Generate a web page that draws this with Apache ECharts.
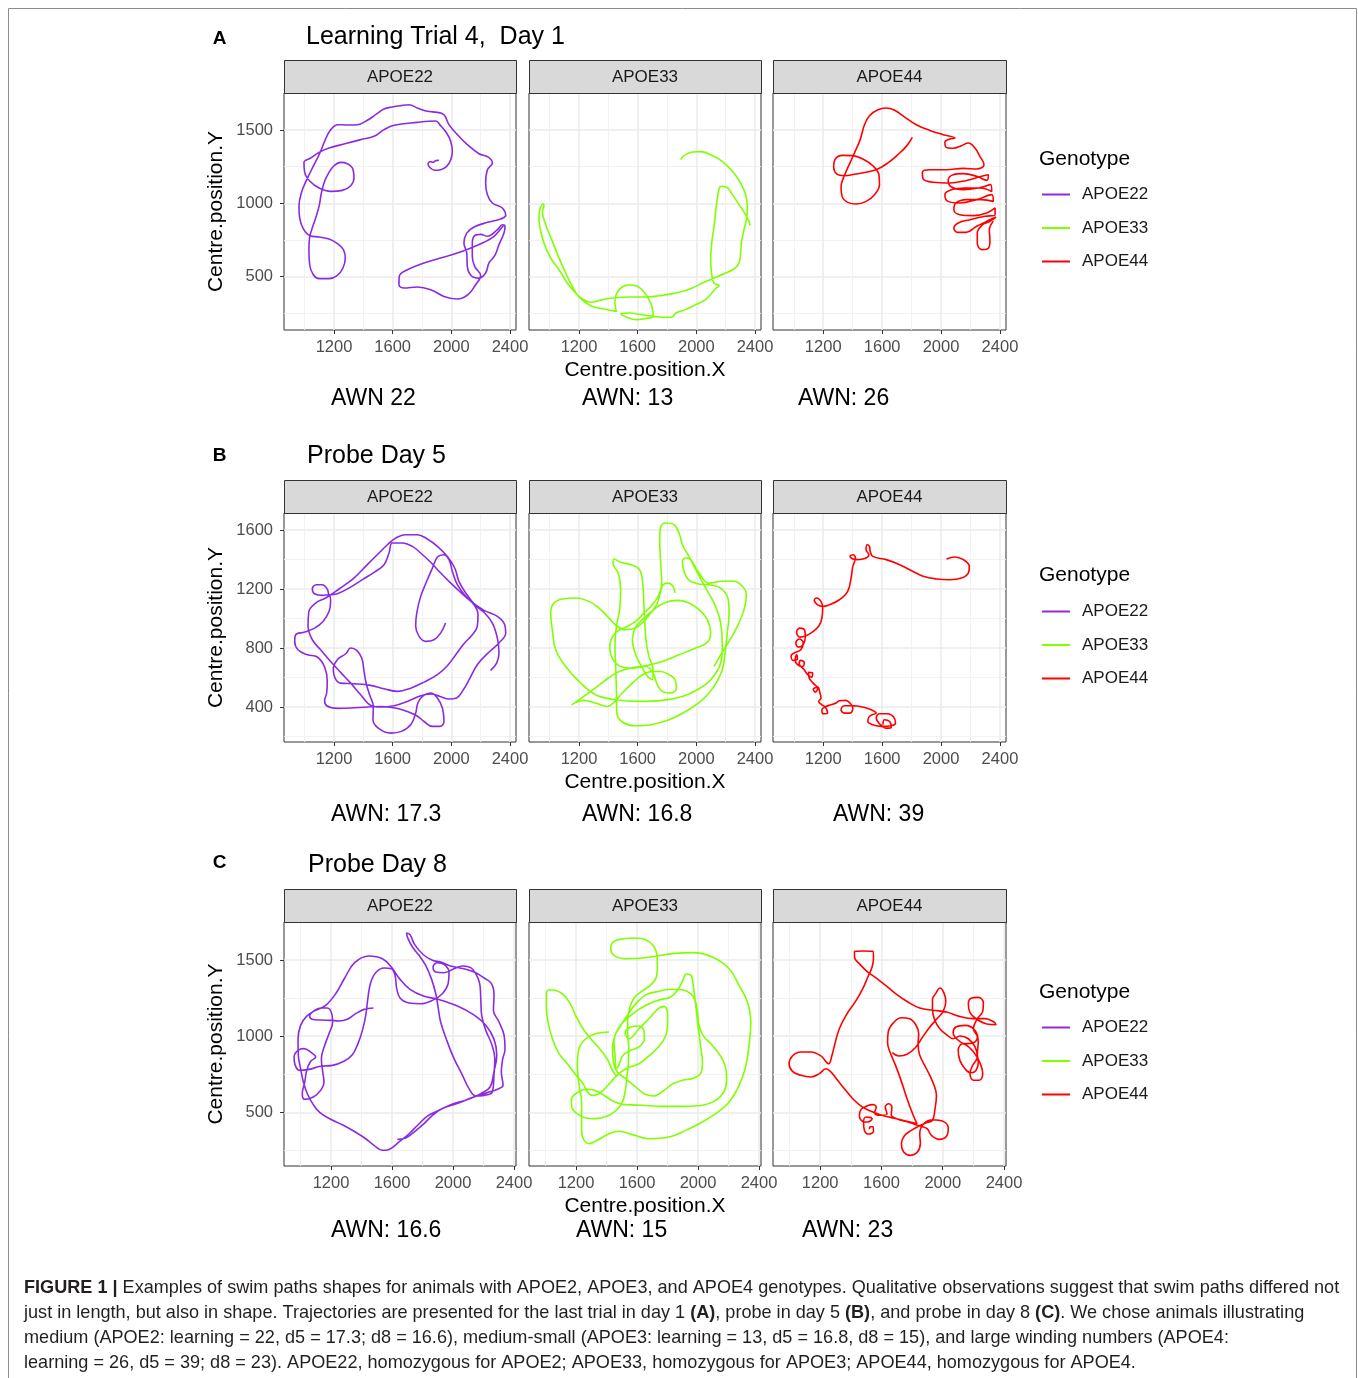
<!DOCTYPE html>
<html>
<head>
<meta charset="utf-8">
<script src="https://cdn.jsdelivr.net/npm/echarts@6/dist/echarts.min.js"></script>
<style>
  html, body { margin: 0; padding: 0; background: #ffffff; }
  #chart { width: 1358px; height: 1378px; }
</style>
</head>
<body>
<div id="chart"></div>
<script>
// ---------------- data ----------------
const genotypes = ['APOE22', 'APOE33', 'APOE44'];
const genotypeColors = ['#8A2BE2', '#7FFF00', '#FF0000'];
const rowLetters = ['A', 'B', 'C'];
const rowTitles = ['Learning Trial 4,  Day 1', 'Probe Day 5', 'Probe Day 8'];
const awnLabels = [
  ['AWN 22', 'AWN: 13', 'AWN: 26'],
  ['AWN: 17.3', 'AWN: 16.8', 'AWN: 39'],
  ['AWN: 16.6', 'AWN: 15', 'AWN: 23']
];

const xMajorTicks = [1200, 1600, 2000, 2400];
const xMinorTicks = [1000, 1400, 1800, 2200];
const yMajorTicksA = [500, 1000, 1500];
const yMinorTicksA = [250, 750, 1250];
const yMajorTicksB = [400, 800, 1200, 1600];
const yMinorTicksB = [200, 600, 1000, 1400];
const yMajorTicksC = [500, 1000, 1500];
const yMinorTicksC = [250, 750, 1250];

const xLimitsAB = [859, 2441];
const xLimitsC = [892, 2413];
const yLimitsA = [136, 1752];
const yLimitsB = [163, 1715];
const yLimitsC = [147, 1750];

// swim paths: [Centre.position.X, Centre.position.Y]
const pathA22 = [[1916,1293],[1893,1291],[1877,1279],[1859,1284],[1841,1270],[1855,1243],[1886,1225],[1927,1229],[1968,1252],[1996,1297],[2007,1354],[1996,1422],[1968,1479],[1927,1529],[1893,1561],[1768,1552],[1609,1532],[1541,1502],[1473,1457],[1382,1434],[1280,1407],[1166,1377],[1098,1347],[1041,1309],[995,1279],[1000,1211],[1036,1150],[1098,1104],[1177,1081],[1257,1088],[1314,1120],[1336,1172],[1325,1241],[1291,1270],[1245,1279],[1200,1256],[1166,1211],[1136,1150],[1114,1070],[1098,979],[1075,900],[1048,820],[1034,770],[1029,684],[1034,581],[1059,513],[1098,486],[1166,486],[1223,509],[1261,559],[1277,627],[1264,684],[1223,725],[1166,756],[1098,770],[1036,779],[991,825],[966,900],[961,979],[977,1070],[1014,1161],[1064,1263],[1104,1343],[1136,1422],[1177,1502],[1227,1536],[1291,1534],[1359,1536],[1427,1566],[1484,1604],[1541,1643],[1598,1657],[1655,1666],[1711,1672],[1768,1650],[1836,1627],[1905,1620],[1950,1604],[1984,1536],[2041,1468],[2109,1400],[2189,1338],[2250,1316],[2280,1275],[2246,1229],[2234,1138],[2246,1059],[2280,1002],[2348,968],[2371,916],[2336,893],[2246,870],[2155,838],[2105,797],[2086,729],[2105,661],[2109,570],[2136,506],[2189,490],[2234,525],[2257,593],[2296,643],[2325,718],[2359,797],[2366,843],[2348,854],[2314,820],[2246,775],[2200,788],[2159,779],[2143,729],[2143,638],[2159,570],[2200,506],[2166,445],[2114,377],[2041,347],[1950,365],[1859,411],[1768,429],[1677,422],[1643,445],[1645,502],[1700,547],[1814,593],[1927,627],[2041,661],[2132,695],[2223,734],[2291,775],[2336,825],[2355,847]];

const pathA33 = [[1893,1297],[1916,1325],[1973,1350],[2030,1352],[2098,1331],[2177,1286],[2246,1218],[2302,1138],[2336,1059],[2348,968],[2341,888],[2325,820],[2309,741],[2302,661],[2291,593],[2257,552],[2200,525],[2132,495],[2052,461],[1973,422],[1882,393],[1768,372],[1655,361],[1541,361],[1427,354],[1359,343],[1280,325],[1223,347],[1177,388],[1120,456],[1064,547],[1007,627],[961,729],[932,843],[927,911],[934,961],[954,995],[961,984],[950,945],[973,854],[1014,752],[1059,638],[1109,525],[1154,434],[1200,361],[1280,302],[1370,279],[1455,263],[1445,320],[1457,388],[1495,429],[1541,443],[1598,434],[1643,395],[1677,343],[1700,286],[1705,229],[1655,215],[1586,206],[1530,222],[1484,247],[1541,252],[1632,240],[1711,229],[1780,222],[1836,225],[1859,252],[1927,275],[1996,309],[2041,331],[2075,354],[2105,388],[2136,422],[2155,438],[2121,456],[2105,513],[2098,616],[2105,729],[2121,843],[2136,979],[2150,1070],[2168,1116],[2205,1111],[2246,1059],[2291,991],[2332,929],[2359,877],[2366,847]];

const pathA44 = [[1805,1450],[1764,1388],[1707,1332],[1639,1275],[1571,1234],[1491,1211],[1423,1200],[1344,1188],[1291,1200],[1271,1247],[1282,1302],[1332,1327],[1401,1325],[1469,1302],[1537,1256],[1578,1195],[1582,1127],[1548,1059],[1491,1013],[1423,995],[1366,1006],[1328,1047],[1321,1116],[1337,1172],[1366,1241],[1412,1343],[1451,1434],[1480,1536],[1514,1597],[1571,1638],[1628,1650],[1685,1634],[1753,1588],[1832,1536],[1923,1497],[2014,1468],[2094,1445],[2060,1438],[2026,1416],[2032,1384],[2082,1375],[2139,1393],[2185,1411],[2230,1377],[2264,1320],[2292,1263],[2242,1234],[2151,1238],[2037,1229],[1923,1229],[1873,1211],[1878,1166],[1946,1143],[2060,1138],[2173,1156],[2276,1184],[2321,1195],[2310,1156],[2242,1184],[2151,1202],[2082,1195],[2048,1156],[2071,1111],[2151,1093],[2253,1104],[2337,1127],[2344,1081],[2264,1104],[2162,1104],[2071,1093],[2026,1059],[2048,1013],[2128,1002],[2242,1025],[2344,1059],[2355,1013],[2276,1025],[2173,1025],[2101,1002],[2087,956],[2128,922],[2219,916],[2310,934],[2367,968],[2367,922],[2298,911],[2196,888],[2117,866],[2087,831],[2110,802],[2169,802],[2242,843],[2310,877],[2373,906],[2332,877],[2282,854],[2246,797],[2246,729],[2276,684],[2314,688],[2332,741],[2328,820],[2355,877]];

const pathB22 = [[1961,969],[1927,901],[1882,856],[1825,845],[1780,879],[1757,947],[1764,1037],[1791,1150],[1832,1252],[1871,1342],[1905,1417],[1946,1432],[1984,1399],[2007,1319],[2041,1229],[2098,1150],[2155,1093],[2182,1026],[2177,947],[2143,890],[2086,829],[2030,754],[1973,680],[1905,619],[1814,569],[1723,528],[1632,506],[1541,524],[1450,547],[1336,558],[1245,562],[1207,596],[1195,657],[1223,721],[1280,761],[1314,800],[1355,784],[1389,732],[1405,641],[1420,558],[1445,477],[1468,404],[1466,314],[1502,257],[1586,223],[1659,235],[1723,280],[1757,359],[1773,431],[1809,477],[1859,495],[1905,461],[1939,393],[1950,302],[1923,269],[1871,269],[1814,302],[1764,341],[1700,370],[1620,393],[1530,404],[1427,400],[1314,393],[1223,391],[1150,409],[1136,445],[1150,495],[1154,574],[1136,671],[1086,739],[1018,754],[954,788],[932,845],[939,890],[1000,908],[1068,935],[1125,980],[1166,1048],[1177,1116],[1161,1161],[1120,1157],[1070,1166],[1052,1200],[1079,1229],[1120,1229],[1154,1200],[1170,1161],[1223,1168],[1302,1206],[1393,1263],[1473,1313],[1541,1365],[1575,1444],[1598,1512],[1666,1512],[1734,1489],[1791,1444],[1859,1381],[1927,1308],[1996,1240],[2068,1173],[2143,1109],[2223,1055],[2314,1014],[2364,958],[2371,901],[2325,834],[2250,766],[2177,687],[2127,596],[2082,517],[2036,461],[1984,454],[1923,472],[1859,488],[1791,477],[1700,438],[1609,409],[1518,400],[1455,409],[1382,483],[1314,562],[1245,635],[1177,709],[1109,788],[1052,856],[1023,947],[1029,1048],[1075,1105],[1143,1139],[1234,1200],[1336,1274],[1427,1365],[1507,1444],[1564,1500],[1620,1545],[1689,1568],[1768,1568],[1836,1539],[1905,1489],[1973,1421],[2023,1342],[2052,1252],[2098,1173],[2166,1087],[2223,1042],[2280,969],[2314,867],[2325,766],[2309,698],[2268,648]];

const pathB33 = [[1855,1173],[1841,1218],[1809,1240],[1773,1229],[1757,1184],[1734,1105],[1689,1037],[1636,974],[1582,935],[1518,924],[1455,951],[1400,1008],[1336,1071],[1268,1116],[1177,1139],[1086,1132],[1029,1105],[1007,1037],[1018,924],[1041,788],[1109,675],[1200,574],[1314,483],[1450,449],[1609,438],[1768,445],[1905,472],[2007,517],[2098,585],[2166,698],[2177,811],[2166,969],[2121,1105],[2064,1206],[1996,1331],[1950,1421],[1905,1500],[1882,1579],[1848,1636],[1791,1647],[1757,1620],[1750,1534],[1757,1376],[1764,1240],[1745,1161],[1700,1093],[1643,1037],[1586,980],[1530,947],[1461,913],[1423,867],[1409,800],[1432,721],[1484,675],[1564,664],[1655,675],[1705,630],[1734,551],[1768,506],[1825,495],[1864,528],[1855,585],[1814,619],[1757,641],[1700,641],[1632,619],[1564,562],[1495,495],[1445,438],[1393,404],[1314,427],[1234,445],[1177,431],[1150,415],[1200,449],[1280,506],[1370,574],[1461,635],[1552,664],[1655,680],[1768,709],[1882,754],[1996,800],[2075,838],[2098,901],[2075,992],[2018,1060],[1950,1105],[1882,1123],[1814,1116],[1757,1093],[1695,1048],[1632,992],[1582,935],[1564,856],[1582,766],[1620,687],[1666,608],[1700,585],[1705,653],[1677,743],[1659,834],[1650,947],[1643,1082],[1632,1263],[1609,1335],[1552,1365],[1484,1381],[1439,1403],[1432,1371],[1468,1308],[1484,1195],[1477,1060],[1455,947],[1445,811],[1450,675],[1455,517],[1457,370],[1491,302],[1586,273],[1689,280],[1814,314],[1927,370],[2041,449],[2121,540],[2177,653],[2196,766],[2211,901],[2223,1037],[2218,1127],[2166,1206],[2086,1229],[2007,1236],[1946,1263],[1916,1319],[1905,1387],[1927,1410],[1961,1399],[2018,1308],[2086,1240],[2177,1252],[2257,1252],[2314,1218],[2341,1161],[2325,1060],[2280,947],[2223,845],[2166,754],[2121,675]];

const pathB44 = [[2037,1403],[2094,1417],[2151,1399],[2192,1353],[2185,1308],[2139,1274],[2060,1263],[1969,1268],[1878,1286],[1810,1319],[1719,1365],[1628,1399],[1537,1421],[1519,1455],[1514,1489],[1498,1500],[1491,1466],[1510,1432],[1469,1403],[1423,1399],[1401,1403],[1382,1421],[1401,1432],[1419,1410],[1401,1353],[1389,1274],[1366,1184],[1310,1127],[1241,1093],[1196,1082],[1162,1093],[1139,1123],[1155,1139],[1185,1116],[1196,1071],[1191,1003],[1169,947],[1123,906],[1082,883],[1041,874],[1019,906],[1041,935],[1075,919],[1078,874],[1064,822],[1032,806],[1014,834],[1037,861],[1064,838],[1048,788],[1010,770],[982,748],[996,716],[1025,725],[1019,754],[1010,721],[1025,687],[1060,675],[1071,703],[1048,716],[1037,693],[1071,653],[1094,619],[1123,603],[1128,630],[1100,635],[1105,596],[1132,562],[1162,528],[1146,501],[1132,522],[1162,535],[1178,495],[1185,461],[1169,438],[1191,415],[1214,400],[1230,359],[1200,354],[1191,382],[1219,404],[1253,415],[1287,427],[1310,443],[1351,445],[1382,427],[1401,393],[1382,359],[1344,359],[1321,382],[1344,409],[1401,409],[1469,400],[1526,382],[1560,359],[1532,348],[1510,332],[1503,302],[1537,280],[1594,269],[1662,273],[1691,291],[1678,332],[1639,354],[1582,354],[1560,325],[1582,287],[1628,257],[1662,262],[1651,302],[1616,314],[1605,280]];

const pathC22 = [[1478,1185],[1417,1176],[1355,1143],[1307,1111],[1253,1100],[1198,1104],[1132,1106],[1078,1111],[1060,1132],[1084,1163],[1132,1185],[1176,1185],[1205,1148],[1211,1093],[1187,1016],[1159,940],[1137,852],[1146,764],[1154,699],[1132,644],[1084,600],[1028,585],[1012,622],[1028,699],[1041,775],[1067,835],[1100,863],[1071,892],[1023,918],[984,907],[958,863],[964,813],[997,775],[1056,782],[1132,802],[1209,808],[1285,835],[1340,878],[1377,951],[1406,1038],[1428,1137],[1443,1257],[1460,1351],[1493,1417],[1548,1448],[1596,1443],[1620,1400],[1631,1312],[1653,1251],[1712,1218],[1788,1213],[1865,1235],[1930,1279],[1968,1345],[1974,1422],[1941,1472],[1898,1483],[1869,1454],[1887,1422],[1941,1417],[2007,1443],[2062,1461],[2116,1450],[2149,1411],[2175,1345],[2182,1246],[2188,1137],[2215,1038],[2252,951],[2274,852],[2269,754],[2258,633],[2204,611],[2149,607],[2105,655],[2062,743],[2007,852],[1959,973],[1919,1093],[1902,1192],[1887,1279],[1858,1378],[1821,1465],[1777,1531],[1734,1586],[1701,1651],[1696,1678],[1718,1667],[1749,1601],[1806,1535],[1865,1498],[1919,1487],[1985,1461],[2072,1443],[2149,1417],[2204,1382],[2252,1345],[2269,1268],[2265,1170],[2302,1093],[2335,1005],[2341,918],[2324,841],[2317,764],[2328,677],[2291,651],[2225,629],[2156,607],[2072,576],[1985,550],[1902,510],[1832,475],[1771,418],[1712,359],[1646,305],[1581,256],[1537,250],[1482,283],[1428,326],[1351,375],[1275,418],[1198,454],[1128,497],[1084,550],[1045,622],[1019,699],[1001,786],[986,874],[984,983],[1001,1071],[1041,1132],[1100,1170],[1165,1202],[1231,1279],[1290,1382],[1355,1483],[1449,1527],[1537,1509],[1596,1454],[1653,1373],[1718,1308],[1806,1264],[1902,1242],[2029,1198],[2134,1141],[2215,1071],[2269,979],[2287,874],[2269,769],[2243,666],[2182,622],[2105,589],[2018,554],[1930,524],[1865,480],[1810,425],[1745,370],[1690,331],[1635,322]];

const pathC33 = [[1417,1027],[1329,1016],[1264,983],[1220,918],[1209,808],[1220,677],[1237,567],[1237,480],[1237,392],[1248,326],[1285,294],[1340,316],[1417,359],[1482,375],[1570,353],[1679,326],[1810,337],[1919,381],[2007,425],[2116,491],[2204,567],[2269,677],[2309,786],[2335,940],[2346,1093],[2324,1224],[2269,1334],[2204,1443],[2094,1520],[1963,1549],[1832,1542],[1734,1527],[1635,1513],[1526,1509],[1449,1531],[1428,1579],[1449,1623],[1515,1640],[1592,1645],[1657,1634],[1705,1597],[1729,1542],[1734,1454],[1723,1378],[1683,1330],[1631,1294],[1581,1251],[1552,1185],[1539,1104],[1539,1016],[1546,918],[1543,819],[1533,721],[1522,633],[1504,567],[1465,513],[1406,475],[1329,458],[1264,462],[1209,489],[1172,535],[1170,585],[1209,629],[1268,651],[1329,642],[1390,607],[1456,567],[1526,550],[1635,546],[1766,539],[1898,539],[2029,546],[2116,578],[2171,637],[2188,721],[2177,808],[2142,878],[2090,944],[2033,1005],[2007,1071],[1996,1159],[1981,1235],[1952,1279],[1898,1305],[1821,1308],[1740,1294],[1661,1273],[1602,1224],[1559,1170],[1522,1115],[1487,1060],[1456,1005],[1439,918],[1445,830],[1471,765],[1526,721],[1592,666],[1653,618],[1712,607],[1777,644],[1836,688],[1898,710],[1974,725],[2022,765],[2029,830],[2016,940],[2000,1071],[1985,1203],[1970,1323],[1954,1400],[1924,1408],[1898,1360],[1865,1301],[1821,1257],[1745,1238],[1679,1213],[1613,1176],[1552,1130],[1500,1082],[1465,1027],[1449,962],[1456,874],[1465,786],[1482,813],[1508,874],[1559,907],[1613,929],[1648,979],[1646,1032],[1609,1067],[1559,1060],[1522,1021],[1548,983],[1613,1049],[1683,1119],[1740,1181],[1777,1196],[1801,1148],[1799,1049],[1777,979],[1734,922],[1679,870],[1613,819],[1552,797],[1500,769],[1449,721],[1399,666],[1351,622],[1307,611],[1275,633],[1246,688],[1198,747],[1143,819],[1089,885],[1049,973],[1019,1082],[1006,1192],[1006,1279],[1023,1305],[1063,1301],[1122,1268],[1165,1207],[1202,1126],[1246,1049],[1296,983],[1355,918],[1406,848],[1439,775],[1465,738]];

const pathC44 = [[1522,388],[1526,405],[1544,405],[1548,375],[1518,357],[1489,381],[1483,436],[1500,469],[1539,458],[1511,436],[1478,440],[1456,480],[1467,519],[1504,541],[1544,550],[1566,535],[1555,497],[1598,480],[1636,491],[1625,535],[1647,556],[1668,535],[1664,484],[1708,454],[1773,436],[1850,410],[1898,392],[1926,348],[1977,322],[2025,342],[2036,397],[2003,440],[1937,451],[1876,425],[1850,359],[1854,294],[1832,235],[1789,217],[1745,239],[1730,294],[1751,348],[1795,381],[1845,410],[1889,429],[1933,447],[1948,513],[1959,611],[1933,703],[1894,786],[1850,874],[1839,951],[1843,1016],[1824,1075],[1784,1115],[1730,1121],[1679,1089],[1644,1027],[1640,957],[1657,892],[1692,808],[1730,703],[1767,589],[1806,484],[1832,425],[1697,458],[1620,475],[1544,502],[1474,535],[1413,589],[1358,655],[1314,710],[1271,764],[1238,786],[1194,754],[1139,732],[1074,743],[1019,769],[997,819],[1019,870],[1074,896],[1139,896],[1205,870],[1255,819],[1277,874],[1299,962],[1325,1049],[1369,1137],[1435,1235],[1478,1312],[1511,1389],[1539,1454],[1548,1513],[1544,1557],[1478,1559],[1424,1557],[1424,1520],[1461,1470],[1511,1421],[1566,1382],[1631,1330],[1701,1273],[1773,1224],[1850,1185],[1937,1170],[2025,1159],[2108,1130],[2200,1115],[2276,1115],[2335,1093],[2348,1075],[2287,1080],[2221,1111],[2178,1154],[2167,1213],[2189,1251],[2232,1255],[2265,1220],[2261,1163],[2226,1115],[2200,1049],[2226,994],[2200,957],[2145,951],[2095,979],[2068,1023],[2086,1060],[2145,1071],[2211,1038],[2232,962],[2226,885],[2232,830],[2217,775],[2182,760],[2145,786],[2112,841],[2101,907],[2130,951],[2178,922],[2217,874],[2248,813],[2261,754],[2239,710],[2200,710],[2178,754],[2195,808],[2226,863],[2211,929],[2167,983],[2112,1001],[2068,983],[2025,1010],[1981,1049],[1948,1104],[1933,1176],[1933,1242],[1955,1281],[1981,1316],[2007,1286],[2020,1229],[2003,1163],[1959,1111],[1911,1054],[1867,992],[1824,927],[1767,881],[1714,870],[1671,892]];

const captionLines = [
  '{b|FIGURE 1 |} Examples of swim paths shapes for animals with APOE2, APOE3, and APOE4 genotypes. Qualitative observations suggest that swim paths differed not',
  'just in length, but also in shape. Trajectories are presented for the last trial in day 1 {b|(A)}, probe in day 5 {b|(B)}, and probe in day 8 {b|(C)}. We chose animals illustrating',
  'medium (APOE2: learning = 22, d5 = 17.3; d8 = 16.6), medium-small (APOE3: learning = 13, d5 = 16.8, d8 = 15), and large winding numbers (APOE4:',
  'learning = 26, d5 = 39; d8 = 23). APOE22, homozygous for APOE2; APOE33, homozygous for APOE3; APOE44, homozygous for APOE4.'
];

// ---------------- layout ----------------
const FONT = '"Liberation Sans", Arial, Helvetica, sans-serif';
const panelLeft = [284, 529, 773];
const panelWidth = [232, 232, 233];
const rowTop = [93, 513, 922];
const rowHeight = [237, 229, 244];
const stripHeight = 33;
const titleY = [37, 456, 865];
const titleX = [306, 307, 308];
const letterY = [39, 456, 863];
const awnY = [399, 815, 1231];
const awnX = [[331, 582, 798], [331, 582, 833], [331, 576, 802]];
const legendTitleY = [159, 575, 992];
const legendTop = [186, 603, 1019];
const captionY = [1288, 1313, 1338, 1363];

const rows = [
  { xLim: xLimitsAB, yLim: yLimitsA, yMajor: yMajorTicksA, yMinor: yMinorTicksA, paths: [pathA22, pathA33, pathA44] },
  { xLim: xLimitsAB, yLim: yLimitsB, yMajor: yMajorTicksB, yMinor: yMinorTicksB, paths: [pathB22, pathB33, pathB44] },
  { xLim: xLimitsC,  yLim: yLimitsC, yMajor: yMajorTicksC, yMinor: yMinorTicksC, paths: [pathC22, pathC33, pathC44] }
];

const grid = [], xAxis = [], yAxis = [], series = [], graphic = [], legend = [];

const majorGrid = { show: true, lineStyle: { color: '#ebebeb', width: 1.5 } };
const minorGrid = { show: true, lineStyle: { color: '#f1f1f1', width: 0.9 } };
const plainNumber = (v) => String(v);

rows.forEach((row, r) => {
  for (let p = 0; p < 3; p++) {
    const g = r * 3 + p;
    grid.push({
      left: panelLeft[p], top: rowTop[r], width: panelWidth[p], height: rowHeight[r],
      show: true, backgroundColor: '#ffffff', borderColor: '#333333', borderWidth: 1,
      containLabel: false, outerBoundsMode: 'none'
    });
    // major x axis (ticks, labels, major grid)
    xAxis.push({
      gridIndex: g, type: 'value', min: row.xLim[0], max: row.xLim[1], position: 'bottom',
      axisLine: { show: false },
      axisTick: { show: true, length: 4, customValues: xMajorTicks, lineStyle: { color: '#333333', width: 1 } },
      axisLabel: { show: true, customValues: xMajorTicks, formatter: plainNumber, color: '#4d4d4d', fontSize: 16.5, fontFamily: FONT, margin: 9 },
      splitLine: majorGrid,
      name: p === 1 ? 'Centre.position.X' : '',
      nameLocation: 'middle', nameGap: 30,
      nameTextStyle: { fontSize: 21, color: '#000000', fontFamily: FONT }
    });
    // minor x grid
    xAxis.push({
      gridIndex: g, type: 'value', min: row.xLim[0], max: row.xLim[1], position: 'top',
      axisLine: { show: false },
      axisTick: { show: false, customValues: xMinorTicks },
      axisLabel: { show: false, customValues: xMinorTicks },
      splitLine: minorGrid
    });
    // major y axis
    yAxis.push({
      gridIndex: g, type: 'value', min: row.yLim[0], max: row.yLim[1], position: 'left',
      axisLine: { show: false },
      axisTick: { show: p === 0, length: 4, customValues: row.yMajor, lineStyle: { color: '#333333', width: 1 } },
      axisLabel: { show: p === 0, customValues: row.yMajor, formatter: plainNumber, color: '#4d4d4d', fontSize: 16.5, fontFamily: FONT, margin: 11 },
      splitLine: majorGrid,
      name: p === 0 ? 'Centre.position.Y' : '',
      nameLocation: 'middle', nameGap: 57, nameRotate: 90,
      nameTextStyle: { fontSize: 21, color: '#000000', fontFamily: FONT }
    });
    // minor y grid
    yAxis.push({
      gridIndex: g, type: 'value', min: row.yLim[0], max: row.yLim[1], position: 'right',
      axisLine: { show: false },
      axisTick: { show: false, customValues: row.yMinor },
      axisLabel: { show: false, customValues: row.yMinor },
      splitLine: minorGrid
    });
    series.push({
      type: 'line', name: genotypes[p],
      xAxisIndex: 2 * g, yAxisIndex: 2 * g,
      data: row.paths[p],
      showSymbol: false, symbol: 'none',
      smooth: 0.4, smoothConstraint: false,
      color: genotypeColors[p],
      itemStyle: { color: genotypeColors[p] },
      lineStyle: { color: genotypeColors[p], width: 1.6 },
      silent: true, z: 3
    });

    // facet strip
    graphic.push({
      type: 'rect', silent: true, z: 5,
      shape: { x: panelLeft[p] + 0.5, y: rowTop[r] - stripHeight + 0.5, width: panelWidth[p], height: stripHeight },
      style: { fill: '#d9d9d9', stroke: '#333333', lineWidth: 1 }
    });
    graphic.push({
      type: 'text', silent: true, z: 6,
      x: panelLeft[p] + panelWidth[p] / 2, y: rowTop[r] - stripHeight / 2 + 0.5,
      style: { text: genotypes[p], font: '17px ' + FONT, fill: '#1a1a1a', align: 'center', verticalAlign: 'middle' }
    });
    // winding number label
    graphic.push({
      type: 'text', silent: true,
      x: awnX[r][p], y: awnY[r],
      style: { text: awnLabels[r][p], font: '23px ' + FONT, fill: '#000000', align: 'left', verticalAlign: 'middle' }
    });
  }

  // row letter + row title
  graphic.push({
    type: 'text', silent: true, x: 219.5, y: letterY[r],
    style: { text: rowLetters[r], font: 'bold 19px ' + FONT, fill: '#000000', align: 'center', verticalAlign: 'middle' }
  });
  graphic.push({
    type: 'text', silent: true, x: titleX[r], y: titleY[r],
    style: { text: rowTitles[r], font: '25px ' + FONT, fill: '#000000', align: 'left', verticalAlign: 'middle' }
  });
  // legend title
  graphic.push({
    type: 'text', silent: true, x: 1039, y: legendTitleY[r],
    style: { text: 'Genotype', font: '21px ' + FONT, fill: '#000000', align: 'left', verticalAlign: 'middle' }
  });
  legend.push({
    data: genotypes, orient: 'vertical', left: 1042, top: legendTop[r], padding: 0,
    icon: 'rect', itemWidth: 28, itemHeight: 2, itemGap: 16.5,
    selectedMode: false,
    textStyle: { fontSize: 17, color: '#1a1a1a', fontFamily: FONT, padding: [0, 0, 0, 7] }
  });
});

// caption
captionLines.forEach((line, i) => {
  graphic.push({
    type: 'text', silent: true, x: 24, y: captionY[i],
    style: {
      text: line, font: '18.1px ' + FONT, fill: '#231f20', align: 'left', verticalAlign: 'middle',
      rich: { b: { fontWeight: 'bold', fontSize: 18.1, fontFamily: FONT, fill: '#231f20' } }
    }
  });
});

// outer frame
graphic.push({
  type: 'rect', silent: true, z: 10,
  shape: { x: 8.5, y: 8.5, width: 1348, height: 1400 },
  style: { fill: null, stroke: '#8c8c8c', lineWidth: 1 }
});

const chart = echarts.init(document.getElementById('chart'), null, { renderer: 'canvas' });
chart.setOption({
  backgroundColor: '#ffffff',
  animation: false,
  grid, xAxis, yAxis, series, legend, graphic
});
</script>
</body>
</html>
